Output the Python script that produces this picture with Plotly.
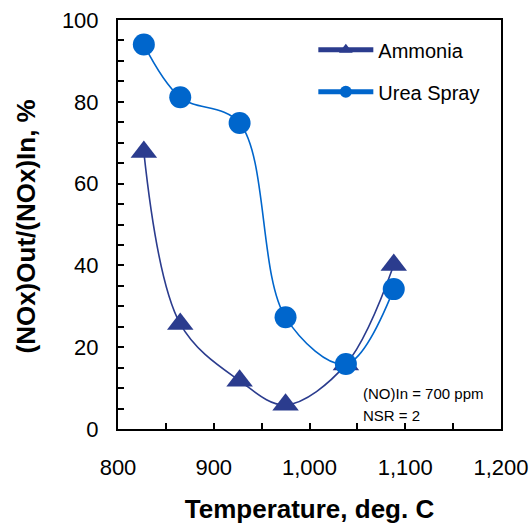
import plotly.graph_objects as go

# Data
temperature = [827, 865, 927, 975, 1038, 1088]
ammonia = [67.7, 25.7, 11.8, 5.9, 15.8, 40.1]
urea_spray = [94.0, 81.1, 74.8, 27.3, 15.9, 34.2]

x_tickvals = [800, 900, 1000, 1100, 1200]
x_ticktext = ["800", "900", "1,000", "1,100", "1,200"]
y_tickvals = [0, 20, 40, 60, 80, 100]

note_lines = ["(NO)In = 700 ppm", "NSR = 2"]
y_title = "(NOx)Out/(NOx)In, %"
x_title = "Temperature, deg. C"

FONT = "Arial, Liberation Sans, sans-serif"
NAVY = "#2B3C8E"
BLUE = "#0066CC"

fig = go.Figure()
fig.add_trace(go.Scatter(
    x=temperature, y=ammonia, name="Ammonia", mode="lines+markers",
    line=dict(color=NAVY, width=1.6, shape="spline", smoothing=1.0),
    marker=dict(symbol="triangle-up", size=23, color=NAVY),
    legendgroup="a",
))
fig.add_trace(go.Scatter(
    x=temperature, y=urea_spray, name="Urea Spray", mode="lines+markers",
    line=dict(color=BLUE, width=1.6, shape="spline", smoothing=1.0),
    marker=dict(symbol="circle", size=22, color=BLUE),
    legendgroup="b",
))

fig.add_annotation(x=1054, y=8.7, xref="x", yref="y", text=note_lines[0],
                   showarrow=False, xanchor="left", yanchor="middle",
                   font=dict(family=FONT, size=15, color="#000"))
fig.add_annotation(x=1054, y=3.3, xref="x", yref="y", text=note_lines[1],
                   showarrow=False, xanchor="left", yanchor="middle",
                   font=dict(family=FONT, size=15, color="#000"))
# y-axis title
fig.add_annotation(x=0, y=0.5, xref="paper", yref="paper", text="<b>" + y_title + "</b>",
                   textangle=-90, showarrow=False, xanchor="center", yanchor="middle",
                   xshift=-93, yshift=-2,
                   font=dict(family=FONT, size=26, color="#000"))

fig.update_layout(
    width=531, height=527,
    margin=dict(l=118, r=30, t=20, b=98, autoexpand=False),
    paper_bgcolor="white", plot_bgcolor="white",
    font=dict(family=FONT, color="#000"),
    showlegend=True,
    legend=dict(x=0.51, y=0.975, xanchor="left", yanchor="top",
                bgcolor="rgba(0,0,0,0)", font=dict(family=FONT, size=20, color="#000"),
                itemwidth=55, itemsizing="constant", tracegroupgap=13,
                traceorder="grouped"),
    xaxis=dict(
        range=[800, 1200], tickvals=x_tickvals, ticktext=x_ticktext,
        showgrid=False, zeroline=False, automargin=False,
        ticklabeloverflow="allow",
        showline=True, linecolor="#000", linewidth=2, mirror=True,
        ticks="inside", ticklen=6, tickwidth=1.5, tickcolor="#000",
        minor=dict(dtick=50, tick0=800, ticks="inside", ticklen=6, tickwidth=1.5, tickcolor="#000", showgrid=False),
        tickfont=dict(family=FONT, size=22, color="#000"),
        ticklabelstandoff=18,
        title=dict(text="<b>" + x_title + "</b>", font=dict(family=FONT, size=26, color="#000"), standoff=20),
    ),
    yaxis=dict(
        range=[0, 100], tickvals=y_tickvals,
        showgrid=False, zeroline=False, automargin=False,
        ticklabeloverflow="allow",
        showline=True, linecolor="#000", linewidth=2, mirror=True,
        ticks="inside", ticklen=6, tickwidth=1.5, tickcolor="#000",
        minor=dict(dtick=5, tick0=0, ticks="inside", ticklen=6, tickwidth=1.5, tickcolor="#000", showgrid=False),
        tickfont=dict(family=FONT, size=22, color="#000"),
        ticklabelstandoff=13,
    ),
)

fig.write_html(
    "out.html",
    config={"displayModeBar": False},
    post_script="document.body.style.margin='0';document.body.style.overflow='hidden';",
)
